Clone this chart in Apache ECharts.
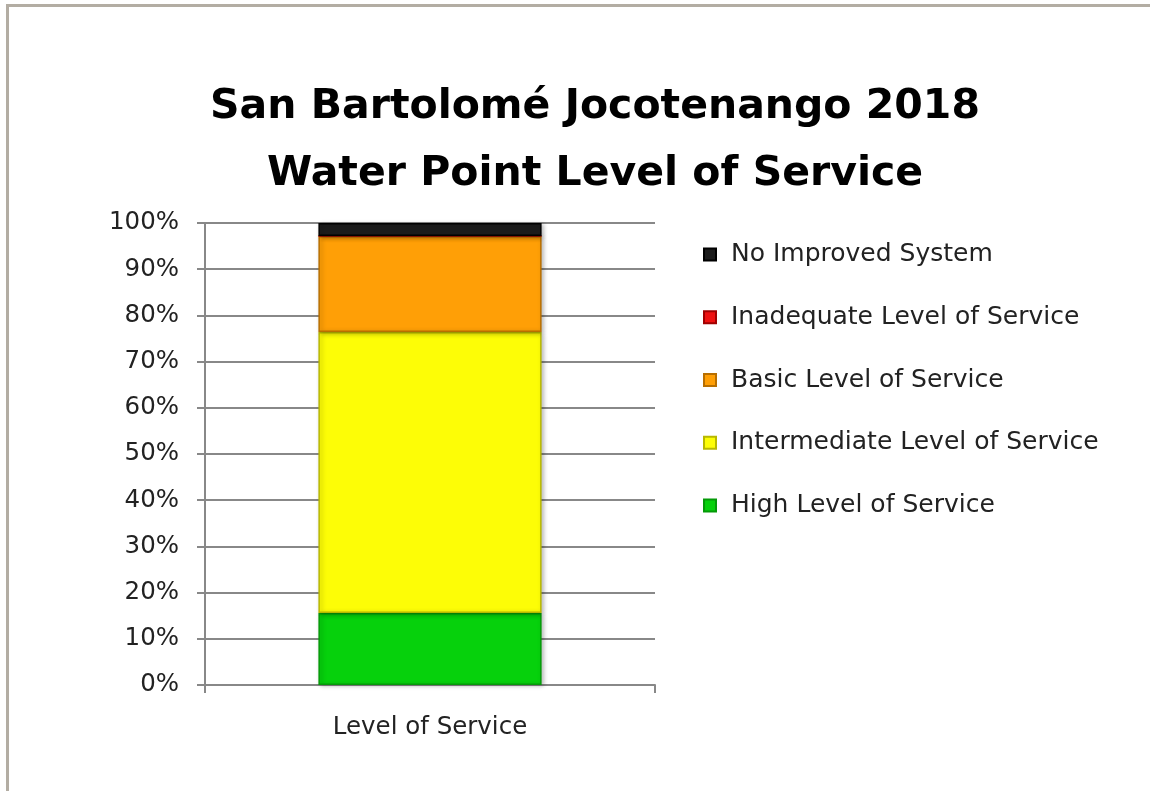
<!DOCTYPE html>
<html>
<head>
<meta charset="utf-8">
<script src="https://cdn.jsdelivr.net/npm/echarts@6/dist/echarts.min.js"></script>
<style>
html,body{margin:0;padding:0;background:#fff;}
#c{width:1150px;height:791px;}
</style>
</head>
<body>
<div id="c"></div>
<script>
const categories = ['Level of Service'];
const seriesNames = ['High Level of Service','Intermediate Level of Service','Basic Level of Service','Inadequate Level of Service','No Improved System'];
const highValues = [15.6];
const intermediateValues = [60.8];
const basicValues = [20.8];
const inadequateValues = [0];
const noImprovedValues = [2.8];
const yTicks = ['0%','10%','20%','30%','40%','50%','60%','70%','80%','90%','100%'];
const titleLines = ['San Bartolomé Jocotenango 2018','Water Point Level of Service'];

const colors = ['#06d10c','#fdfd06','#ff9f06','#ee1111','#1c1c1c'];
const borders = ['#049a08','#b8b800','#b86f00','#a00000','#000000'];
const values = [highValues, intermediateValues, basicValues, inadequateValues, noImprovedValues];
const font = '"DejaVu Sans", sans-serif';

const chart = echarts.init(document.getElementById('c'), null, {renderer:'canvas'});
const series = seriesNames.map((n,i)=>({
  name:n, type:'bar', stack:'total', data: values[i], barWidth:'49.6%',
  itemStyle:{color:colors[i], borderColor:borders[i], borderWidth:1.5,
    shadowColor:'rgba(0,0,0,0.25)', shadowBlur:4, shadowOffsetX:2, shadowOffsetY:1}
}));
chart.setOption({
  animation:false,
  backgroundColor:'#fff',
  graphic:[
    {type:'rect', shape:{x:6,y:4,width:1150,height:3}, style:{fill:'#b3ada3'}},
    {type:'rect', shape:{x:6,y:4,width:3,height:800}, style:{fill:'#b3ada3'}}
  ],
  title:{
    text: titleLines.join('\n'), left:590, top:69, textAlign:'center',
    textStyle:{fontFamily:font, fontWeight:'bold', fontSize:41, lineHeight:67, color:'#000'}
  },
  grid:{left:205, right:495, top:223, bottom:106},
  legend:{
    orient:'vertical', left:703, top:242, padding:0,
    data:[...seriesNames].reverse(),
    itemWidth:12, itemHeight:12, itemGap:37.75, icon:'rect',
    textStyle:{fontFamily:font, fontSize:25, lineHeight:24, color:'#222', padding:[0,0,0,10]}
  },
  xAxis:{
    type:'category', data:categories,
    axisLine:{lineStyle:{color:'#888', width:2}},
    axisTick:{show:true, length:8, lineStyle:{color:'#888', width:2}},
    axisLabel:{fontFamily:font, fontSize:24.5, color:'#222', margin:30}
  },
  yAxis:{
    type:'value', min:0, max:100, interval:10,
    axisLabel:{formatter:(v)=>yTicks[Math.round(v/10)], fontFamily:font, fontSize:24.5, color:'#222', margin:26},
    axisLine:{show:true, lineStyle:{color:'#888', width:2}},
    axisTick:{show:true, length:8, lineStyle:{color:'#888', width:2}},
    splitLine:{lineStyle:{color:'#888', width:2}}
  },
  series: series
});
</script>
</body>
</html>
